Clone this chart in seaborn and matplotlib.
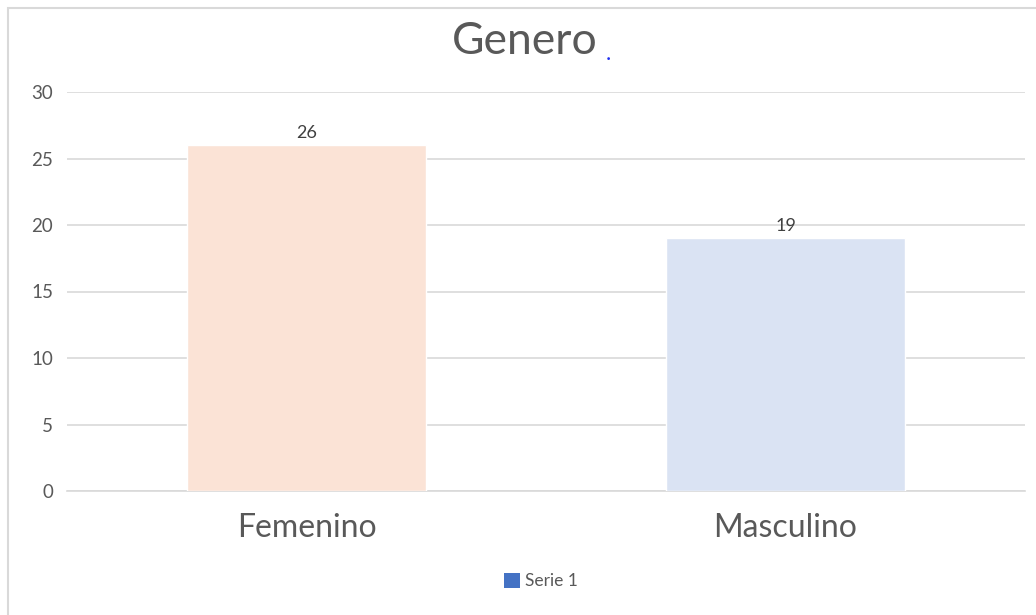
import matplotlib
matplotlib.use("Agg")
import matplotlib.pyplot as plt
import seaborn as sns
import pandas as pd
from matplotlib.patches import Patch, Rectangle

categories = ["Femenino", "Masculino"]
values = [26, 19]
bar_colors = ["#FBE3D6", "#DAE3F3"]
y_ticks = [0, 5, 10, 15, 20, 25, 30]
title = "Genero"
legend_label = "Serie 1"

sns.set_theme(style="white")
plt.rcParams['font.family'] = ['Lato', 'DejaVu Sans']

df = pd.DataFrame({"cat": categories, "val": values})

fig = plt.figure(figsize=(10.36, 6.15), dpi=100)
ax = fig.add_axes([67/1036, 1 - 491/615, (1025-67)/1036, (491-92)/615])

sns.barplot(data=df, x="cat", y="val", hue="cat", palette=bar_colors,
            width=0.5, legend=False, ax=ax, saturation=1, zorder=3)

ax.set_ylim(0, 30)
ax.set_xlim(-0.5, 1.5)
ax.set_yticks(y_ticks)
ax.yaxis.grid(True, color="#D9D9D9", linewidth=1.2, zorder=0)
ax.set_axisbelow(True)
for s in ["top", "right", "left"]:
    ax.spines[s].set_visible(False)
ax.spines["bottom"].set_color("#D9D9D9")
ax.spines["bottom"].set_linewidth(1.2)
ax.tick_params(axis="y", length=0, pad=10, labelsize=13.5, labelcolor="#595959")
ax.tick_params(axis="x", length=0, pad=16, labelsize=23, labelcolor="#595959")
ax.set_xlabel("")
ax.set_ylabel("")

for i, v in enumerate(values):
    ax.text(i, v + 0.3, str(v), ha="center", va="bottom", fontsize=13, color="#404040")

fig.text(525/1036, 1 - 42/615, title, ha="center", va="center", fontsize=32, color="#595959")
fig.text(608/1036, 1 - 60/615, ".", ha="center", va="baseline", fontsize=16, color="#2030F0")

# chart border (left and top)
fig.add_artist(Rectangle((8/1036, -0.05), 1.2, 1 - 8/615 + 0.05, transform=fig.transFigure,
                         fill=False, edgecolor="#D9D9D9", linewidth=1.5))

handles = [Patch(facecolor="#4472C4", edgecolor="none", label=legend_label)]
fig.legend(handles=handles, loc="center", bbox_to_anchor=(541/1036, 1 - 581/615),
           frameon=False, fontsize=12.5, handlelength=0.95, handleheight=0.95,
           handletextpad=0.3, labelcolor="#595959")

fig.savefig("out.png", dpi=100)
